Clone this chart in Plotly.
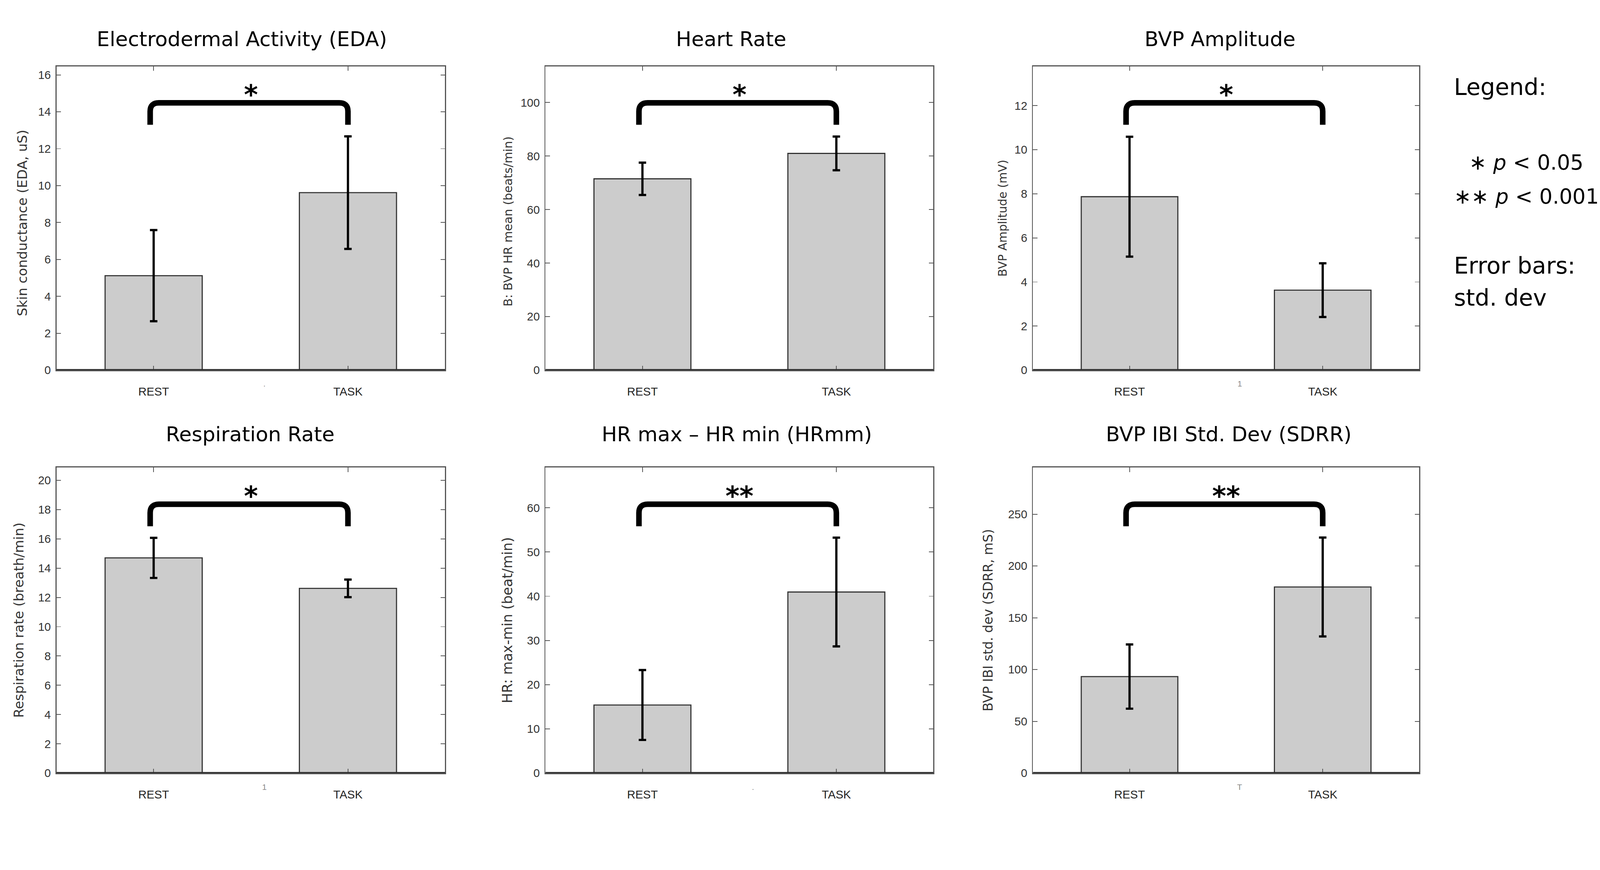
import plotly.graph_objects as go

categories = ["REST", "TASK"]
titles = ["Electrodermal Activity (EDA)", "Heart Rate", "BVP Amplitude",
          "Respiration Rate", "HR max \u2013 HR min (HRmm)", "BVP IBI Std. Dev (SDRR)"]
y_titles = ["Skin conductance (EDA, uS)", "B: BVP HR mean (beats/min)", "BVP Amplitude (mV)",
            "Respiration rate (breath/min)", "HR: max-min (beat/min)", "BVP IBI std. dev (SDRR, mS)"]

eda_mean = [5.12, 9.62]
eda_sd = [2.47, 3.05]
hr_mean = [71.5, 81.0]
hr_sd = [6.05, 6.3]
bvp_amp_mean = [7.87, 3.63]
bvp_amp_sd = [2.72, 1.22]
resp_mean = [14.7, 12.62]
resp_sd = [1.37, 0.6]
hrmm_mean = [15.4, 40.95]
hrmm_sd = [7.9, 12.3]
sdrr_mean = [93.2, 179.7]
sdrr_sd = [31.0, 47.7]

significance = ["*", "*", "*", "*", "**", "**"]
stray_marks = [".", "", "1", "1", ".", "T"]

means = [eda_mean, hr_mean, bvp_amp_mean, resp_mean, hrmm_mean, sdrr_mean]
sds = [eda_sd, hr_sd, bvp_amp_sd, resp_sd, hrmm_sd, sdrr_sd]

y_max = [16.46, 113.5, 13.78, 20.87, 69.1, 295]
y_dtick = [2, 20, 2, 2, 10, 50]
ytitle_size = [36, 32, 31, 36, 37, 35]
ytitle_gap = [92, 101, 82, 102, 102, 120]
ytitle_yc = [0.485, 0.49, 0.5, 0.5, 0.5, 0.5]
title_xc = [650, 1967, 3281, 673, 1981, 3304]

W, H = 4303, 2226
x_dom = [[152 / W, 1197 / W], [1467 / W, 2510 / W], [2778 / W, 3817 / W]]
y_dom = [[1 - 1003 / H, 1 - 180 / H], [1 - 2095 / H, 1 - 1267 / H]]
title_y = [1 - 106 / H, 1 - 1177 / H]

SANS = "DejaVu Sans"

fig = go.Figure()
layout = dict(width=W, height=H, margin=dict(l=0, r=0, t=0, b=0),
              paper_bgcolor="white", plot_bgcolor="white", showlegend=False)
annotations = []
shapes = []

for i in range(6):
    r, c = divmod(i, 3)
    sfx = "" if i == 0 else str(i + 1)
    xa, ya = "x" + sfx, "y" + sfx
    fig.add_trace(go.Bar(
        x=[1, 2], y=means[i], width=0.5, xaxis=xa, yaxis=ya,
        marker=dict(color="#cccccc", line=dict(color="#333333", width=3)),
        error_y=dict(type="data", array=sds[i], visible=True,
                     color="black", thickness=6, width=10),
    ))
    layout["xaxis" + sfx] = dict(
        domain=x_dom[c], anchor=ya, range=[0.5, 2.5],
        tickvals=[1, 2], ticktext=categories,
        showline=True, linecolor="#555555", linewidth=3, mirror="ticks",
        ticks="inside", ticklen=12, tickwidth=2, tickcolor="#555555",
        tickfont=dict(family="Liberation Sans", size=31, color="#222222"),
        ticklabelstandoff=28, showgrid=False, zeroline=False, fixedrange=True)
    layout["yaxis" + sfx] = dict(
        domain=y_dom[r], anchor=xa, range=[0, y_max[i]], dtick=y_dtick[i], tick0=0,
        showline=True, linecolor="#555555", linewidth=3, mirror="ticks",
        ticks="inside", ticklen=12, tickwidth=2, tickcolor="#555555",
        tickfont=dict(family="Liberation Sans", size=31, color="#333333"),
        ticklabelstandoff=6, showgrid=False, zeroline=False, fixedrange=True)

    xd = xa + " domain"
    yd = ya + " domain"
    # baseline
    shapes.append(dict(type="line", xref=xd, yref=ya, x0=0, x1=1, y0=0, y1=0,
                       line=dict(color="#2a2a2a", width=6)))
    # significance bracket
    xl, xr = 0.982, 2.0
    yb, yt = 0.808, 0.880
    rx, ry = 0.045, 0.028
    path = (f"M {xl},{yb} L {xl},{yt - ry} Q {xl},{yt} {xl + rx},{yt} "
            f"L {xr - rx},{yt} Q {xr},{yt} {xr},{yt - ry} L {xr},{yb}")
    shapes.append(dict(type="path", xref=xa, yref=yd, path=path,
                       line=dict(color="black", width=15)))
    annotations.append(dict(text=significance[i], xref=xa, yref=yd, x=1.5, y=0.907,
                            xanchor="center", yanchor="middle", showarrow=False,
                            font=dict(family=SANS, size=72, color="black", weight="bold")))
    # panel title
    annotations.append(dict(text=titles[i], xref="paper", yref="paper", x=title_xc[i] / W,
                            y=title_y[r], xanchor="center", yanchor="middle", showarrow=False,
                            font=dict(family=SANS, size=55, color="black")))
    # y axis title
    xpix = x_dom[c][0] * W - ytitle_gap[i]
    annotations.append(dict(text=y_titles[i], xref="paper", yref=yd, x=xpix / W, y=ytitle_yc[i],
                            xanchor="center", yanchor="middle", textangle=-90, showarrow=False,
                            font=dict(family=SANS, size=ytitle_size[i], color="#333333")))
    if stray_marks[i]:
        annotations.append(dict(text=stray_marks[i], xref=xa, yref=yd, x=1.57, y=-0.045,
                                xanchor="center", yanchor="middle", showarrow=False,
                                font=dict(family="Liberation Sans", size=22, color="#888888")))

# legend text
leg_font = dict(family=SANS, size=62, color="black")
sig_font = dict(family=SANS, size=56, color="black")
annotations += [
    dict(text="Legend:", xref="paper", yref="paper", x=3908 / W, y=1 - 235 / H,
         xanchor="left", yanchor="middle", showarrow=False, font=leg_font),
    dict(text="\u2217 <i>p</i> < 0.05", xref="paper", yref="paper", x=4105 / W, y=1 - 440 / H,
         xanchor="center", yanchor="middle", showarrow=False, font=sig_font),
    dict(text="\u2217\u2217 <i>p</i> < 0.001", xref="paper", yref="paper", x=4105 / W, y=1 - 532 / H,
         xanchor="center", yanchor="middle", showarrow=False, font=sig_font),
    dict(text="Error bars:", xref="paper", yref="paper", x=3908 / W, y=1 - 719 / H,
         xanchor="left", yanchor="middle", showarrow=False, font=leg_font),
    dict(text="std. dev", xref="paper", yref="paper", x=3908 / W, y=1 - 806 / H,
         xanchor="left", yanchor="middle", showarrow=False, font=leg_font),
]

layout["annotations"] = annotations
layout["shapes"] = shapes
fig.update_layout(**layout)

fit_script = """
document.documentElement.style.margin = '0';
document.body.style.margin = '0';
document.body.style.overflow = 'hidden';
var gd = document.getElementById('{plot_id}');
var s = Math.min(window.innerWidth / %d, window.innerHeight / %d);
if (s > 0 && Math.abs(s - 1) > 0.001) {
  gd.style.transformOrigin = '0 0';
  gd.style.transform = 'scale(' + s + ')';
}
""" % (W, H)

fig.write_html("out.html", post_script=fit_script, config={"displayModeBar": False})
